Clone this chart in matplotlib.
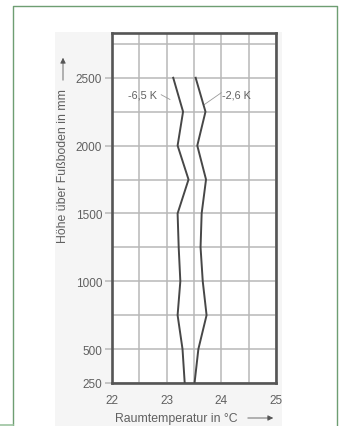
import matplotlib
matplotlib.use('Agg')
import matplotlib.pyplot as plt
import matplotlib.patches as mpatches
import numpy as np

# Raumtemperatur ueber der Hoehe, zwei Aussentemperatur-Faelle
hoehe = [250, 500, 750, 1000, 1250, 1500, 1750, 2000, 2250, 2500]
temp_65 = [23.33, 23.29, 23.20, 23.25, 23.22, 23.20, 23.40, 23.20, 23.30, 23.12]
temp_26 = [23.51, 23.58, 23.73, 23.66, 23.62, 23.64, 23.72, 23.56, 23.71, 23.53]
kurven_labels = ['-6,5 K', '-2,6 K']
x_ticks = [22, 23, 24, 25]
y_ticks = [250, 500, 1000, 1500, 2000, 2500]

plt.rcParams['font.family'] = ['Liberation Sans Narrow', 'Liberation Sans', 'DejaVu Sans']
txt = '#606060'
dark = '#474747'

fig = plt.figure(figsize=(3.45, 4.27), dpi=100)
W, H = 345, 427

# green frame and grey background of the original scan
fig.patches.append(mpatches.Rectangle((55 / W, 0), 227 / W, (H - 33) / H, transform=fig.transFigure,
                                      facecolor='#f5f5f5', edgecolor='none', zorder=-5))
fig.add_artist(plt.Line2D([13 / W, 13 / W, 337 / W, 337 / W], [0, 1 - 7 / H, 1 - 7 / H, 0],
                          transform=fig.transFigure, color='#6e9e72', lw=1.0))
fig.add_artist(plt.Line2D([0, 13 / W], [1.2 / H, 1.2 / H], transform=fig.transFigure,
                          color='#9cc49f', lw=1.2))

ax = fig.add_axes([112 / W, (H - 384) / H, 164 / W, 350 / H])
ax.set_facecolor('white')

ax.plot(temp_65, hoehe, color=dark, lw=1.4, zorder=3)
ax.plot(temp_26, hoehe, color=dark, lw=1.4, zorder=3)

ax.set_xlim(22, 25)
ax.set_ylim(250, 2830)
ax.set_xticks(x_ticks)
ax.set_yticks(y_ticks)
ax.set_xticks(np.arange(22.5, 25, 0.5), minor=True)
ax.set_yticks(np.arange(750, 2800, 500), minor=True)
ax.grid(True, which='both', color='#b8b8b8', lw=1.1)
ax.set_axisbelow(True)
ax.tick_params(axis='y', which='major', length=5, width=1.1, color='#b8b8b8',
               labelsize=8.5, labelcolor=txt, pad=2)
ax.tick_params(axis='x', which='major', length=0, labelsize=8.5, labelcolor=txt, pad=8)
ax.tick_params(which='minor', length=0)
for s in ax.spines.values():
    s.set_color('#555555')
    s.set_linewidth(1.9)

# curve labels with leader lines
ax.text(22.3, 2380, kurven_labels[0], fontsize=7.8, color=txt, va='center', ha='left')
ax.plot([22.9, 23.06], [2375, 2340], color='#9a9a9a', lw=0.6)
ax.text(24.02, 2380, kurven_labels[1], fontsize=7.8, color=txt, va='center', ha='left')
ax.plot([23.68, 24.0], [2300, 2390], color='#9a9a9a', lw=0.6)

# axis titles with arrows
fig.text(176 / W, 1 - 419 / H, 'Raumtemperatur in °C', fontsize=8.8, color=txt, ha='center', va='center')
fig.add_artist(mpatches.FancyArrowPatch((245 / W, 1 - 419 / H), (276 / W, 1 - 419 / H),
                                        transform=fig.transFigure, arrowstyle='-|>',
                                        color='#555555', lw=0.6, mutation_scale=8))
fig.text(63 / W, 1 - 166 / H, 'Höhe über Fußboden in mm', fontsize=8.8, color=txt, ha='center',
         va='center', rotation=90)
fig.add_artist(mpatches.FancyArrowPatch((63 / W, 1 - 84 / H), (63 / W, 1 - 56 / H),
                                        transform=fig.transFigure, arrowstyle='-|>',
                                        color='#555555', lw=0.6, mutation_scale=8))

fig.savefig('out.png', dpi=100)
